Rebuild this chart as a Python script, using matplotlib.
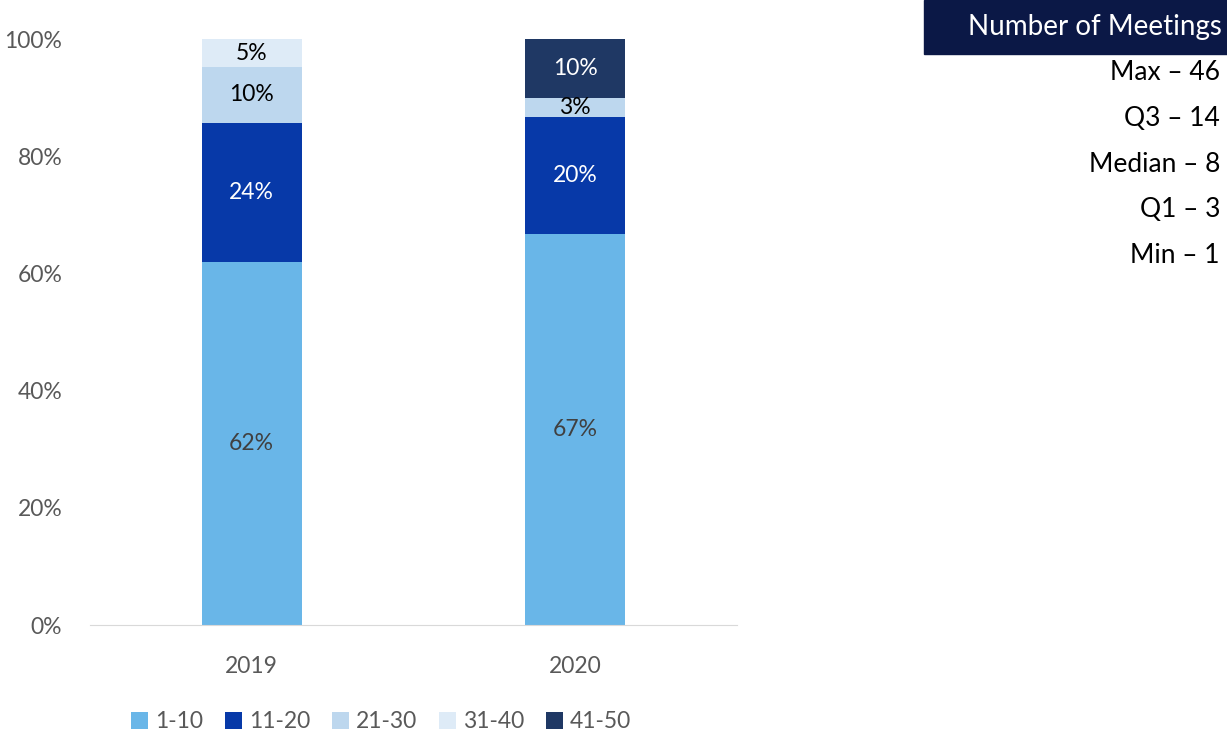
import numpy as np
from matplotlib import pyplot as plt
from matplotlib.patches import Rectangle

plt.rcParams['font.family'] = ['Lato', 'DejaVu Sans']

years = ['2019', '2020']
groups = ['1-10', '11-20', '21-30', '31-40', '41-50']
share = {
    '1-10':  [61.9, 66.7],
    '11-20': [23.8, 20.0],
    '21-30': [9.5, 3.3],
    '31-40': [4.8, 0.0],
    '41-50': [0.0, 10.0],
}
colors = ['#69B6E8', '#0739A8', '#BDD7EE', '#DEEBF7', '#1F3864']
label_colors = ['#404040', 'white', 'black', 'black', 'white']

stats_title = 'Number of Meetings'
stats = ['Max \u2013 46', 'Q3 \u2013 14', 'Median \u2013 8', 'Q1 \u2013 3', 'Min \u2013 1']

fig = plt.figure(figsize=(12.27, 7.36), dpi=100)
ax = fig.add_axes([0.0733, 0.1508, 0.5273, 0.7962])

x = np.arange(len(years))
bottom = np.zeros(len(years))
for g, c, lc in zip(groups, colors, label_colors):
    vals = np.array(share[g])
    ax.bar(x, vals, 0.31, bottom=bottom, color=c, label=g)
    for xi, v, b in zip(x, vals, bottom):
        if v > 0:
            ax.text(xi, b + v / 2, f'{round(v):.0f}%', ha='center', va='center',
                    fontsize=16.5, color=lc)
    bottom += vals

ax.set_xlim(-0.5, 1.5)
ax.set_ylim(0, 100)
ax.set_yticks(range(0, 101, 20))
ax.set_yticklabels([f'{t}%' for t in range(0, 101, 20)])
ax.set_xticks(x)
ax.set_xticklabels(years)
ax.tick_params(length=0, labelsize=16.5, labelcolor='#595959')
ax.tick_params(axis='y', pad=20)
ax.tick_params(axis='x', pad=22)
for s in ['top', 'right', 'left']:
    ax.spines[s].set_visible(False)
ax.spines['bottom'].set_color('#D9D9D9')

leg = fig.legend(loc='center', bbox_to_anchor=(381 / 1227, 1 - 722 / 736), ncol=5,
                 frameon=False, fontsize=16.5, handlelength=0.75, handleheight=0.75,
                 handletextpad=0.3, columnspacing=0.95)
for t in leg.get_texts():
    t.set_color('#595959')

# stats box on the right
fig.patches.append(Rectangle((924 / 1227, 1 - 54 / 736), 303 / 1227, 54 / 736,
                             transform=fig.transFigure, color='#0B1846', zorder=0))
fig.text(1222 / 1227, 1 - 27 / 736, stats_title, ha='right', va='center',
         fontsize=20, color='white')
for i, s in enumerate(stats):
    fig.text(1220 / 1227, 1 - (73 + 45.5 * i) / 736, s, ha='right', va='center',
             fontsize=19, color='black')

fig.savefig('out.png', dpi=100)
